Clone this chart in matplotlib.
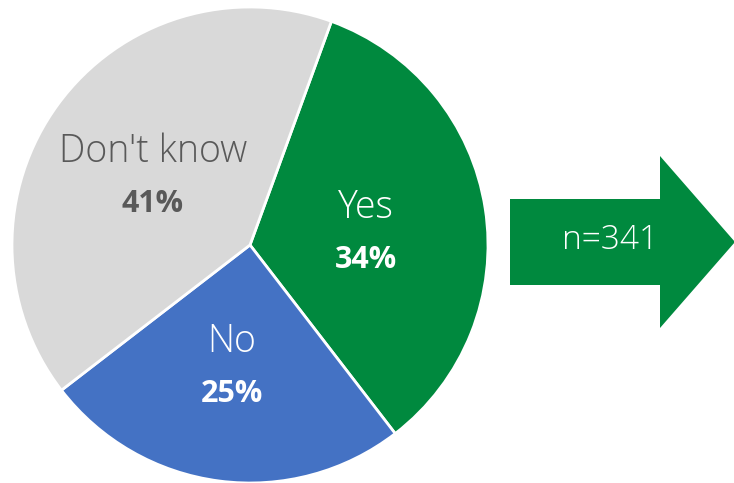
import matplotlib.pyplot as plt
from matplotlib.patches import Polygon

labels = ['Yes', 'No', "Don't know"]
shares = [34, 25, 41]
colors = ['#00893E', '#4472C4', '#D9D9D9']
text_colors = ['white', 'white', '#595959']
sample_size = 341

plt.rcParams['font.family'] = ['Open Sans', 'DejaVu Sans']

fig = plt.figure(figsize=(7.34, 4.83), dpi=100)
ax = fig.add_axes([0, 0, 1, 1])

# pie, clockwise starting a little right of twelve o'clock
cx, cy, r = 250, 238, 238
wedges, _ = ax.pie(shares, colors=colors, startangle=70, counterclock=False,
                   radius=r, center=(cx, cy), frame=True,
                   wedgeprops=dict(edgecolor='white', linewidth=2))
ax.set_xlim(0, 734)
ax.set_ylim(0, 483)
ax.set_aspect('equal')
ax.axis('off')

# labels placed at hand-picked spots inside each slice
label_pos = [(366, 275), (232, 141), (153, 331)]
for (x, y), name, val, tc in zip(label_pos, labels, shares, text_colors):
    ax.text(x, y, name, ha='center', va='center', fontsize=27,
            fontweight='light', color=tc)
    ax.text(x, y - 52, f'{val}%', ha='center', va='center', fontsize=22,
            fontweight='bold', color=tc)

# block arrow with sample size
arrow = Polygon([(510, 198), (660, 198), (660, 155), (735, 241),
                 (660, 327), (660, 284), (510, 284)],
                closed=True, facecolor='#00893E', edgecolor='none')
ax.add_patch(arrow)
ax.text(610, 243, f'n={sample_size}', ha='center', va='center',
        fontsize=24, fontweight='light', color='white')

fig.savefig('out.png', dpi=100, facecolor='white')
